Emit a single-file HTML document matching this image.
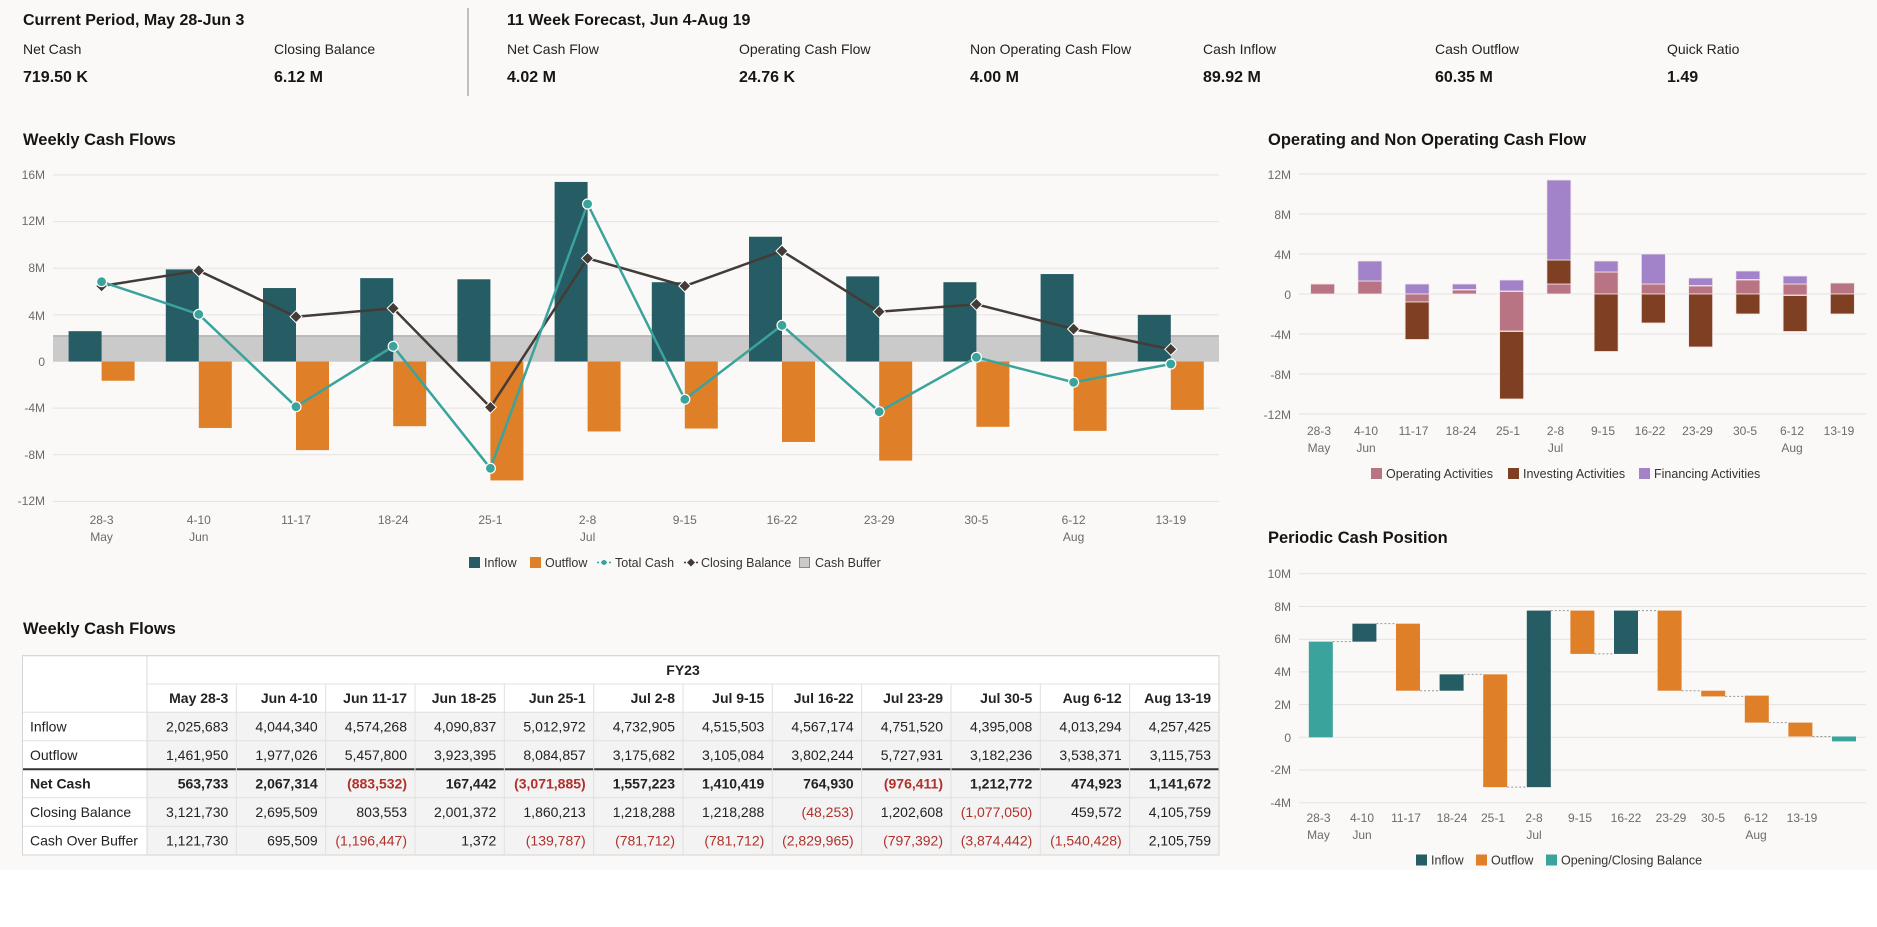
<!DOCTYPE html>
<html><head><meta charset="utf-8"><style>
html,body{margin:0;padding:0;width:1877px;height:927px;overflow:hidden;background:#fff}
svg{display:block;font-family:"Liberation Sans",sans-serif}
.ax{font-size:12px;fill:#6b6b6b}
.lg{font-size:12.5px;fill:#333}
.ttl{font-size:16.5px;font-weight:bold;fill:#161513}
.lbl{font-size:14px;fill:#222}
.val{font-size:16px;font-weight:bold;fill:#161513}
.tb{font-size:14px;fill:#222}
.r{fill:#b0302a}
</style></head><body>
<svg id="s" width="1877" height="927" xmlns="http://www.w3.org/2000/svg">
<rect x="0" y="0" width="1877" height="870" fill="#faf9f8"/>
<!-- header -->
<text x="23" y="25" class="ttl" style="font-size:16px">Current Period, May 28-Jun 3</text>
<line x1="468" y1="8" x2="468" y2="96" stroke="#888" stroke-width="1"/>
<text x="507" y="25" class="ttl" style="font-size:16px">11 Week Forecast, Jun 4-Aug 19</text>
<g class="lbl">
<text x="23" y="54">Net Cash</text><text x="274" y="54">Closing Balance</text>
<text x="507" y="54">Net Cash Flow</text><text x="739" y="54">Operating Cash Flow</text>
<text x="970" y="54">Non Operating Cash Flow</text><text x="1203" y="54">Cash Inflow</text>
<text x="1435" y="54">Cash Outflow</text><text x="1667" y="54">Quick Ratio</text>
</g>
<g class="val">
<text x="23" y="82">719.50 K</text><text x="274" y="82">6.12 M</text>
<text x="507" y="82">4.02 M</text><text x="739" y="82">24.76 K</text>
<text x="970" y="82">4.00 M</text><text x="1203" y="82">89.92 M</text>
<text x="1435" y="82">60.35 M</text><text x="1667" y="82">1.49</text>
</g>
<!-- main chart -->
<text x="23" y="145" class="ttl">Weekly Cash Flows</text>
<g id="g1"></g>
<g class="ax" text-anchor="end">
<text x="45" y="179">16M</text><text x="45" y="225">12M</text><text x="45" y="272">8M</text><text x="45" y="320">4M</text><text x="45" y="366">0</text><text x="45" y="412">-4M</text><text x="45" y="459">-8M</text><text x="45" y="505">-12M</text>
</g>
<g class="ax" text-anchor="middle">
<text x="101.6" y="524">28-3</text><text x="198.8" y="524">4-10</text><text x="296" y="524">11-17</text><text x="393.2" y="524">18-24</text><text x="490.4" y="524">25-1</text><text x="587.6" y="524">2-8</text><text x="684.8" y="524">9-15</text><text x="782" y="524">16-22</text><text x="879.2" y="524">23-29</text><text x="976.4" y="524">30-5</text><text x="1073.6" y="524">6-12</text><text x="1170.8" y="524">13-19</text>
<text x="101.6" y="541">May</text><text x="198.8" y="541">Jun</text><text x="587.6" y="541">Jul</text><text x="1073.6" y="541">Aug</text>
</g>
<g class="lg">
<rect x="469" y="557" width="11" height="11" fill="#265c63"/><text x="484" y="567">Inflow</text>
<rect x="530" y="557" width="11" height="11" fill="#df8029"/><text x="545" y="567">Outflow</text>
<line x1="597" y1="562.5" x2="611" y2="562.5" stroke="#3aa39b" stroke-width="1.5" stroke-dasharray="2 2"/><circle cx="604" cy="562.5" r="2.5" fill="#3aa39b"/><text x="615" y="567">Total Cash</text>
<line x1="684" y1="562.5" x2="698" y2="562.5" stroke="#443b36" stroke-width="1.5" stroke-dasharray="2 2"/><path d="M691 558.5 L695 562.5 L691 566.5 L687 562.5Z" fill="#443b36"/><text x="701" y="567">Closing Balance</text>
<rect x="799.5" y="557.5" width="10" height="10" fill="#cbcaca" stroke="#888"/><text x="815" y="567">Cash Buffer</text>
</g>
<!-- right top -->
<text x="1268" y="145" class="ttl">Operating and Non Operating Cash Flow</text>
<g id="g2"></g>
<g class="ax" text-anchor="end">
<text x="1291" y="179">12M</text><text x="1291" y="219">8M</text><text x="1291" y="259">4M</text><text x="1291" y="299">0</text><text x="1291" y="339">-4M</text><text x="1291" y="379">-8M</text><text x="1291" y="419">-12M</text>
</g>
<g class="ax" text-anchor="middle">
<text x="1319" y="435">28-3</text><text x="1366" y="435">4-10</text><text x="1413.5" y="435">11-17</text><text x="1461" y="435">18-24</text><text x="1508" y="435">25-1</text><text x="1555.5" y="435">2-8</text><text x="1603" y="435">9-15</text><text x="1650" y="435">16-22</text><text x="1697.5" y="435">23-29</text><text x="1745" y="435">30-5</text><text x="1792" y="435">6-12</text><text x="1839" y="435">13-19</text>
<text x="1319" y="452">May</text><text x="1366" y="452">Jun</text><text x="1555.5" y="452">Jul</text><text x="1792" y="452">Aug</text>
</g>
<g class="lg">
<rect x="1371" y="468" width="11" height="11" fill="#b87482"/><text x="1386" y="478">Operating Activities</text>
<rect x="1508" y="468" width="11" height="11" fill="#7f3f22"/><text x="1523" y="478">Investing Activities</text>
<rect x="1639" y="468" width="11" height="11" fill="#a283ca"/><text x="1654" y="478">Financing Activities</text>
</g>
<!-- right bottom -->
<text x="1268" y="543" class="ttl">Periodic Cash Position</text>
<g id="g3"></g>
<g class="ax" text-anchor="end">
<text x="1291" y="578">10M</text><text x="1291" y="611">8M</text><text x="1291" y="643">6M</text><text x="1291" y="676">4M</text><text x="1291" y="709">2M</text><text x="1291" y="742">0</text><text x="1291" y="774">-2M</text><text x="1291" y="807">-4M</text>
</g>
<g class="ax" text-anchor="middle">
<text x="1318.5" y="822">28-3</text><text x="1362" y="822">4-10</text><text x="1406" y="822">11-17</text><text x="1452" y="822">18-24</text><text x="1493" y="822">25-1</text><text x="1534" y="822">2-8</text><text x="1580" y="822">9-15</text><text x="1626" y="822">16-22</text><text x="1671" y="822">23-29</text><text x="1713" y="822">30-5</text><text x="1756" y="822">6-12</text><text x="1802" y="822">13-19</text>
<text x="1318.5" y="839">May</text><text x="1362" y="839">Jun</text><text x="1534" y="839">Jul</text><text x="1756" y="839">Aug</text>
</g>
<g class="lg">
<rect x="1416" y="854.5" width="11" height="11" fill="#265c63"/><text x="1431" y="864.5">Inflow</text>
<rect x="1476" y="854.5" width="11" height="11" fill="#df8029"/><text x="1491" y="864.5">Outflow</text>
<rect x="1546" y="854.5" width="11" height="11" fill="#3aa39b"/><text x="1561" y="864.5">Opening/Closing Balance</text>
</g>
<!-- table -->
<text x="23" y="634" class="ttl">Weekly Cash Flows</text>
<g id="tbl"></g>
<g class="tb">
<text x="683" y="675" text-anchor="middle" style="font-weight:600">FY23</text>
<text y="703" text-anchor="end" style="font-weight:600"><tspan x="228.3">May 28-3</tspan><tspan x="317.7">Jun 4-10</tspan><tspan x="407">Jun 11-17</tspan><tspan x="496.3">Jun 18-25</tspan><tspan x="585.7">Jun 25-1</tspan><tspan x="675">Jul 2-8</tspan><tspan x="764.3">Jul 9-15</tspan><tspan x="853.7">Jul 16-22</tspan><tspan x="943">Jul 23-29</tspan><tspan x="1032.3">Jul 30-5</tspan><tspan x="1121.7">Aug 6-12</tspan><tspan x="1211">Aug 13-19</tspan></text>
<text x="30" y="731.5">Inflow</text><text x="30" y="760">Outflow</text><text x="30" y="788.5" font-weight="bold">Net Cash</text><text x="30" y="817">Closing Balance</text><text x="30" y="845.5">Cash Over Buffer</text>
<text y="731.5" text-anchor="end"><tspan x="228.3">2,025,683</tspan><tspan x="317.7">4,044,340</tspan><tspan x="407">4,574,268</tspan><tspan x="496.3">4,090,837</tspan><tspan x="585.7">5,012,972</tspan><tspan x="675">4,732,905</tspan><tspan x="764.3">4,515,503</tspan><tspan x="853.7">4,567,174</tspan><tspan x="943">4,751,520</tspan><tspan x="1032.3">4,395,008</tspan><tspan x="1121.7">4,013,294</tspan><tspan x="1211">4,257,425</tspan></text>
<text y="760" text-anchor="end"><tspan x="228.3">1,461,950</tspan><tspan x="317.7">1,977,026</tspan><tspan x="407">5,457,800</tspan><tspan x="496.3">3,923,395</tspan><tspan x="585.7">8,084,857</tspan><tspan x="675">3,175,682</tspan><tspan x="764.3">3,105,084</tspan><tspan x="853.7">3,802,244</tspan><tspan x="943">5,727,931</tspan><tspan x="1032.3">3,182,236</tspan><tspan x="1121.7">3,538,371</tspan><tspan x="1211">3,115,753</tspan></text>
<text y="788.5" text-anchor="end" font-weight="bold"><tspan x="228.3">563,733</tspan><tspan x="317.7">2,067,314</tspan><tspan x="407" class="r">(883,532)</tspan><tspan x="496.3">167,442</tspan><tspan x="585.7" class="r">(3,071,885)</tspan><tspan x="675">1,557,223</tspan><tspan x="764.3">1,410,419</tspan><tspan x="853.7">764,930</tspan><tspan x="943" class="r">(976,411)</tspan><tspan x="1032.3">1,212,772</tspan><tspan x="1121.7">474,923</tspan><tspan x="1211">1,141,672</tspan></text>
<text y="817" text-anchor="end"><tspan x="228.3">3,121,730</tspan><tspan x="317.7">2,695,509</tspan><tspan x="407">803,553</tspan><tspan x="496.3">2,001,372</tspan><tspan x="585.7">1,860,213</tspan><tspan x="675">1,218,288</tspan><tspan x="764.3">1,218,288</tspan><tspan x="853.7" class="r">(48,253)</tspan><tspan x="943">1,202,608</tspan><tspan x="1032.3" class="r">(1,077,050)</tspan><tspan x="1121.7">459,572</tspan><tspan x="1211">4,105,759</tspan></text>
<text y="845.5" text-anchor="end"><tspan x="228.3">1,121,730</tspan><tspan x="317.7">695,509</tspan><tspan x="407" class="r">(1,196,447)</tspan><tspan x="496.3">1,372</tspan><tspan x="585.7" class="r">(139,787)</tspan><tspan x="675" class="r">(781,712)</tspan><tspan x="764.3" class="r">(781,712)</tspan><tspan x="853.7" class="r">(2,829,965)</tspan><tspan x="943" class="r">(797,392)</tspan><tspan x="1032.3" class="r">(3,874,442)</tspan><tspan x="1121.7" class="r">(1,540,428)</tspan><tspan x="1211">2,105,759</tspan></text>
</g>
</svg>
<script>
var NS="http://www.w3.org/2000/svg";
function el(p,t,a){var e=document.createElementNS(NS,t);for(var k in a)e.setAttribute(k,a[k]);p.appendChild(e);return e;}
// main chart
var g1=document.getElementById('g1');
var Z=361.5,S=11.66;
for(var v=-12;v<=16;v+=4){var y=Z-v*S;el(g1,'line',{x1:53,x2:1219,y1:y,y2:y,stroke:'#e4e3e1','stroke-width':1});}
el(g1,'rect',{x:53,y:Z-2.2*S,width:1166,height:2.2*S,fill:'#cbcaca'});
el(g1,'line',{x1:53,x2:1219,y1:Z-2.2*S,y2:Z-2.2*S,stroke:'#a8a7a6','stroke-width':1.2});
var inf=[2.6,7.9,6.3,7.15,7.05,15.4,6.8,10.7,7.3,6.8,7.5,4.0];
var out=[1.65,5.7,7.6,5.55,10.2,6.0,5.75,6.9,8.5,5.6,5.95,4.15];
var tc=[281.7,314.3,406.7,346.3,468.3,204,399.3,325.3,411.7,357.3,382.3,364];
var cb=[286,270.7,316.7,308.3,407.3,258.3,286,251,311.7,304.3,329,349.3];
var cx=[];for(var i=0;i<12;i++)cx.push(101.6+97.2*i);
for(i=0;i<12;i++){
el(g1,'rect',{x:cx[i]-33,y:Z-inf[i]*S,width:33,height:inf[i]*S,fill:'#265c63'});
el(g1,'rect',{x:cx[i],y:Z,width:33,height:out[i]*S,fill:'#df8029'});}
var p1='',p2='';for(i=0;i<12;i++){p1+=(i?'L':'M')+cx[i]+' '+tc[i];p2+=(i?'L':'M')+cx[i]+' '+cb[i];}
el(g1,'path',{d:p2,fill:'none',stroke:'#443b36','stroke-width':2.5});
el(g1,'path',{d:p1,fill:'none',stroke:'#3aa39b','stroke-width':2.5});
for(i=0;i<12;i++){
el(g1,'path',{d:'M'+cx[i]+' '+(cb[i]-6)+'L'+(cx[i]+6)+' '+cb[i]+'L'+cx[i]+' '+(cb[i]+6)+'L'+(cx[i]-6)+' '+cb[i]+'Z',fill:'#443b36',stroke:'#fff','stroke-width':1});
el(g1,'circle',{cx:cx[i],cy:tc[i],r:5,fill:'#3aa39b',stroke:'#fff','stroke-width':1.2});}
// right top
var g2=document.getElementById('g2');Z=294;S=10;
for(v=-12;v<=12;v+=4){y=Z-v*S;el(g2,'line',{x1:1299,x2:1866,y1:y,y2:y,stroke:'#e4e3e1'});}
var C={o:'#b87482',i:'#7f3f22',f:'#a283ca'};
var st=[[['o',0,1]],[['o',0,1.3],['f',1.3,3.3]],[['f',0,1],['o',-0.8,0],['i',-4.55,-0.8]],[['o',0,0.4],['f',0.45,1]],[['f',0.3,1.4],['o',-3.7,0.25],['i',-10.5,-3.75]],[['o',0,1],['i',1,3.4],['f',3.4,11.4]],[['o',0,2.2],['f',2.2,3.3],['i',-5.75,0]],[['o',0,1],['f',1,4],['i',-2.9,0]],[['o',0,0.8],['f',0.85,1.6],['i',-5.3,0]],[['o',0,1.4],['f',1.45,2.3],['i',-2,0]],[['o',-0.1,1],['f',1,1.8],['i',-3.75,-0.15]],[['o',0,1.1],['i',-2,0]]];
for(i=0;i<12;i++){var c=1299+47.25*(i+.5);st[i].forEach(function(s){el(g2,'rect',{x:c-12,y:Z-s[2]*S,width:24,height:(s[2]-s[1])*S,fill:C[s[0]],stroke:'#f3e6e6','stroke-width':0.8});});}
// right bottom
var g3=document.getElementById('g3');Z=737.3;S=16.35;
for(v=-4;v<=10;v+=2){y=Z-v*S;el(g3,'line',{x1:1299,x2:1866,y1:y,y2:y,stroke:'#e4e3e1'});}
var wf=[[0,5.85,'b'],[5.85,6.95,'n'],[6.95,2.85,'u'],[2.85,3.85,'n'],[3.85,-3.05,'u'],[-3.05,7.75,'n'],[7.75,5.1,'u'],[5.1,7.75,'n'],[7.75,2.85,'u'],[2.85,2.5,'u'],[2.55,0.9,'u'],[0.9,0.05,'u'],[0.05,-0.25,'b']];
var WC={b:'#3aa39b',n:'#265c63',u:'#df8029'};
for(i=0;i<13;i++){c=1299+43.6*(i+.5);var a=wf[i],hi=Math.max(a[0],a[1]),lo=Math.min(a[0],a[1]);
el(g3,'rect',{x:c-12,y:Z-hi*S,width:24,height:(hi-lo)*S,fill:WC[a[2]]});
if(i<12){var yy=Z-a[1]*S;el(g3,'line',{x1:c+12,x2:c+43.6-12,y1:yy,y2:yy,stroke:'#999','stroke-width':1,'stroke-dasharray':'2 2'});}}
// table
var t=document.getElementById('tbl');
el(t,'rect',{x:22.5,y:655.7,width:1196.5,height:199.3,fill:'#fff',stroke:'#d4d4d4'});
for(var r=0;r<5;r++)el(t,'rect',{x:147,y:712.3+28.5*r,width:1072,height:28.5,fill:'#f3f3f3'});
el(t,'line',{x1:147,x2:147,y1:655.7,y2:855,stroke:'#d8d8d8'});
el(t,'line',{x1:147,x2:1219,y1:684,y2:684,stroke:'#e2e2e2'});
for(r=0;r<5;r++){y=712.3+28.5*r;if(r!=2)el(t,'line',{x1:22.5,x2:1219,y1:y,y2:y,stroke:'#e0e0e0'});}
el(t,'line',{x1:22.5,x2:1219,y1:769.3,y2:769.3,stroke:'#333','stroke-width':2});
for(i=1;i<12;i++){var x=147+89.33*i;el(t,'line',{x1:x,x2:x,y1:684,y2:855,stroke:'#e0e0e0'});}
el(t,'rect',{x:22.5,y:655.7,width:1196.5,height:199.3,fill:'none',stroke:'#d4d4d4'});
</script>
</body></html>
